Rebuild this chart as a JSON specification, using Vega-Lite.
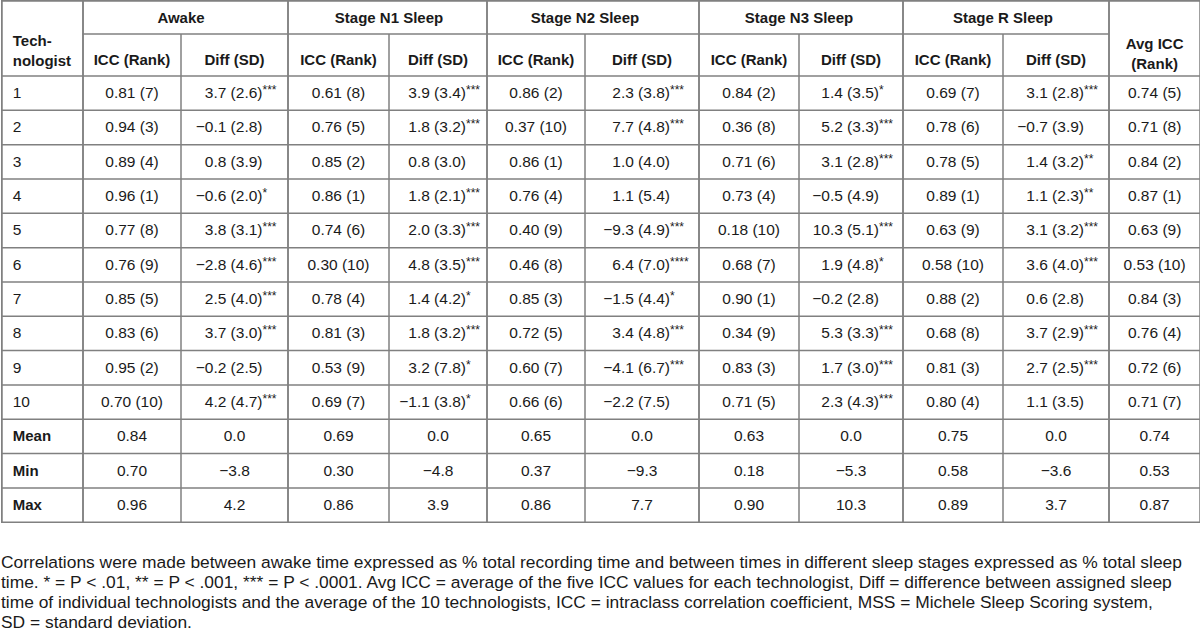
{
  "$schema": "https://vega.github.io/schema/vega-lite/v6.json",
  "width": 1200,
  "height": 523,
  "padding": 0,
  "background": "white",
  "config": {
    "view": {"stroke": null},
    "text": {"font": "Liberation Sans, Arial, sans-serif", "fontSize": 15.5, "color": "#1a1a1a"},
    "rule": {"color": "#808080", "strokeWidth": 1.5}
  },
  "title": {
    "text": [
      "Correlations were made between awake time expressed as % total recording time and between times in different sleep stages expressed as % total sleep",
      "time. * = P < .01, ** = P < .001, *** = P < .0001. Avg ICC = average of the five ICC values for each technologist, Diff = difference between assigned sleep",
      "time of individual technologists and the average of the 10 technologists, ICC = intraclass correlation coefficient, MSS = Michele Sleep Scoring system,",
      "SD = standard deviation."
    ],
    "orient": "bottom",
    "anchor": "start",
    "frame": "group",
    "font": "Liberation Sans, Arial, sans-serif",
    "fontSize": 17.4,
    "fontWeight": "normal",
    "lineHeight": 20,
    "color": "#1a1a1a",
    "offset": 31
  },
  "datasets": {
    "cells": [
      {"r":1,"c":1,"v":"0.81 (7)"},{"r":1,"c":2,"v":"3.7 (2.6)","s":"***"},{"r":1,"c":3,"v":"0.61 (8)"},{"r":1,"c":4,"v":"3.9 (3.4)","s":"***"},{"r":1,"c":5,"v":"0.86 (2)"},{"r":1,"c":6,"v":"2.3 (3.8)","s":"***"},{"r":1,"c":7,"v":"0.84 (2)"},{"r":1,"c":8,"v":"1.4 (3.5)","s":"*"},{"r":1,"c":9,"v":"0.69 (7)"},{"r":1,"c":10,"v":"3.1 (2.8)","s":"***"},{"r":1,"c":11,"v":"0.74 (5)"},
      {"r":2,"c":1,"v":"0.94 (3)"},{"r":2,"c":2,"v":"−0.1 (2.8)","s":""},{"r":2,"c":3,"v":"0.76 (5)"},{"r":2,"c":4,"v":"1.8 (3.2)","s":"***"},{"r":2,"c":5,"v":"0.37 (10)"},{"r":2,"c":6,"v":"7.7 (4.8)","s":"***"},{"r":2,"c":7,"v":"0.36 (8)"},{"r":2,"c":8,"v":"5.2 (3.3)","s":"***"},{"r":2,"c":9,"v":"0.78 (6)"},{"r":2,"c":10,"v":"−0.7 (3.9)","s":""},{"r":2,"c":11,"v":"0.71 (8)"},
      {"r":3,"c":1,"v":"0.89 (4)"},{"r":3,"c":2,"v":"0.8 (3.9)","s":""},{"r":3,"c":3,"v":"0.85 (2)"},{"r":3,"c":4,"v":"0.8 (3.0)","s":""},{"r":3,"c":5,"v":"0.86 (1)"},{"r":3,"c":6,"v":"1.0 (4.0)","s":""},{"r":3,"c":7,"v":"0.71 (6)"},{"r":3,"c":8,"v":"3.1 (2.8)","s":"***"},{"r":3,"c":9,"v":"0.78 (5)"},{"r":3,"c":10,"v":"1.4 (3.2)","s":"**"},{"r":3,"c":11,"v":"0.84 (2)"},
      {"r":4,"c":1,"v":"0.96 (1)"},{"r":4,"c":2,"v":"−0.6 (2.0)","s":"*"},{"r":4,"c":3,"v":"0.86 (1)"},{"r":4,"c":4,"v":"1.8 (2.1)","s":"***"},{"r":4,"c":5,"v":"0.76 (4)"},{"r":4,"c":6,"v":"1.1 (5.4)","s":""},{"r":4,"c":7,"v":"0.73 (4)"},{"r":4,"c":8,"v":"−0.5 (4.9)","s":""},{"r":4,"c":9,"v":"0.89 (1)"},{"r":4,"c":10,"v":"1.1 (2.3)","s":"**"},{"r":4,"c":11,"v":"0.87 (1)"},
      {"r":5,"c":1,"v":"0.77 (8)"},{"r":5,"c":2,"v":"3.8 (3.1)","s":"***"},{"r":5,"c":3,"v":"0.74 (6)"},{"r":5,"c":4,"v":"2.0 (3.3)","s":"***"},{"r":5,"c":5,"v":"0.40 (9)"},{"r":5,"c":6,"v":"−9.3 (4.9)","s":"***"},{"r":5,"c":7,"v":"0.18 (10)"},{"r":5,"c":8,"v":"10.3 (5.1)","s":"***"},{"r":5,"c":9,"v":"0.63 (9)"},{"r":5,"c":10,"v":"3.1 (3.2)","s":"***"},{"r":5,"c":11,"v":"0.63 (9)"},
      {"r":6,"c":1,"v":"0.76 (9)"},{"r":6,"c":2,"v":"−2.8 (4.6)","s":"***"},{"r":6,"c":3,"v":"0.30 (10)"},{"r":6,"c":4,"v":"4.8 (3.5)","s":"***"},{"r":6,"c":5,"v":"0.46 (8)"},{"r":6,"c":6,"v":"6.4 (7.0)","s":"****"},{"r":6,"c":7,"v":"0.68 (7)"},{"r":6,"c":8,"v":"1.9 (4.8)","s":"*"},{"r":6,"c":9,"v":"0.58 (10)"},{"r":6,"c":10,"v":"3.6 (4.0)","s":"***"},{"r":6,"c":11,"v":"0.53 (10)"},
      {"r":7,"c":1,"v":"0.85 (5)"},{"r":7,"c":2,"v":"2.5 (4.0)","s":"***"},{"r":7,"c":3,"v":"0.78 (4)"},{"r":7,"c":4,"v":"1.4 (4.2)","s":"*"},{"r":7,"c":5,"v":"0.85 (3)"},{"r":7,"c":6,"v":"−1.5 (4.4)","s":"*"},{"r":7,"c":7,"v":"0.90 (1)"},{"r":7,"c":8,"v":"−0.2 (2.8)","s":""},{"r":7,"c":9,"v":"0.88 (2)"},{"r":7,"c":10,"v":"0.6 (2.8)","s":""},{"r":7,"c":11,"v":"0.84 (3)"},
      {"r":8,"c":1,"v":"0.83 (6)"},{"r":8,"c":2,"v":"3.7 (3.0)","s":"***"},{"r":8,"c":3,"v":"0.81 (3)"},{"r":8,"c":4,"v":"1.8 (3.2)","s":"***"},{"r":8,"c":5,"v":"0.72 (5)"},{"r":8,"c":6,"v":"3.4 (4.8)","s":"***"},{"r":8,"c":7,"v":"0.34 (9)"},{"r":8,"c":8,"v":"5.3 (3.3)","s":"***"},{"r":8,"c":9,"v":"0.68 (8)"},{"r":8,"c":10,"v":"3.7 (2.9)","s":"***"},{"r":8,"c":11,"v":"0.76 (4)"},
      {"r":9,"c":1,"v":"0.95 (2)"},{"r":9,"c":2,"v":"−0.2 (2.5)","s":""},{"r":9,"c":3,"v":"0.53 (9)"},{"r":9,"c":4,"v":"3.2 (7.8)","s":"*"},{"r":9,"c":5,"v":"0.60 (7)"},{"r":9,"c":6,"v":"−4.1 (6.7)","s":"***"},{"r":9,"c":7,"v":"0.83 (3)"},{"r":9,"c":8,"v":"1.7 (3.0)","s":"***"},{"r":9,"c":9,"v":"0.81 (3)"},{"r":9,"c":10,"v":"2.7 (2.5)","s":"***"},{"r":9,"c":11,"v":"0.72 (6)"},
      {"r":10,"c":1,"v":"0.70 (10)"},{"r":10,"c":2,"v":"4.2 (4.7)","s":"***"},{"r":10,"c":3,"v":"0.69 (7)"},{"r":10,"c":4,"v":"−1.1 (3.8)","s":"*"},{"r":10,"c":5,"v":"0.66 (6)"},{"r":10,"c":6,"v":"−2.2 (7.5)","s":""},{"r":10,"c":7,"v":"0.71 (5)"},{"r":10,"c":8,"v":"2.3 (4.3)","s":"***"},{"r":10,"c":9,"v":"0.80 (4)"},{"r":10,"c":10,"v":"1.1 (3.5)","s":""},{"r":10,"c":11,"v":"0.71 (7)"},
      {"r":11,"c":1,"v":"0.84"},{"r":11,"c":2,"v":"0.0"},{"r":11,"c":3,"v":"0.69"},{"r":11,"c":4,"v":"0.0"},{"r":11,"c":5,"v":"0.65"},{"r":11,"c":6,"v":"0.0"},{"r":11,"c":7,"v":"0.63"},{"r":11,"c":8,"v":"0.0"},{"r":11,"c":9,"v":"0.75"},{"r":11,"c":10,"v":"0.0"},{"r":11,"c":11,"v":"0.74"},
      {"r":12,"c":1,"v":"0.70"},{"r":12,"c":2,"v":"−3.8"},{"r":12,"c":3,"v":"0.30"},{"r":12,"c":4,"v":"−4.8"},{"r":12,"c":5,"v":"0.37"},{"r":12,"c":6,"v":"−9.3"},{"r":12,"c":7,"v":"0.18"},{"r":12,"c":8,"v":"−5.3"},{"r":12,"c":9,"v":"0.58"},{"r":12,"c":10,"v":"−3.6"},{"r":12,"c":11,"v":"0.53"},
      {"r":13,"c":1,"v":"0.96"},{"r":13,"c":2,"v":"4.2"},{"r":13,"c":3,"v":"0.86"},{"r":13,"c":4,"v":"3.9"},{"r":13,"c":5,"v":"0.86"},{"r":13,"c":6,"v":"7.7"},{"r":13,"c":7,"v":"0.90"},{"r":13,"c":8,"v":"10.3"},{"r":13,"c":9,"v":"0.89"},{"r":13,"c":10,"v":"3.7"},{"r":13,"c":11,"v":"0.87"}
    ],
    "rows": [
      {"r":1,"t":"1"},{"r":2,"t":"2"},{"r":3,"t":"3"},{"r":4,"t":"4"},{"r":5,"t":"5"},{"r":6,"t":"6"},{"r":7,"t":"7"},{"r":8,"t":"8"},{"r":9,"t":"9"},{"r":10,"t":"10"},{"r":11,"t":"Mean"},{"r":12,"t":"Min"},{"r":13,"t":"Max"}
    ],
    "subheads": [
      {"g":"Awake","c":1,"h":"ICC (Rank)"},{"g":"Awake","c":2,"h":"Diff (SD)"},
      {"g":"Stage N1 Sleep","c":3,"h":"ICC (Rank)"},{"g":"Stage N1 Sleep","c":4,"h":"Diff (SD)"},
      {"g":"Stage N2 Sleep","c":5,"h":"ICC (Rank)"},{"g":"Stage N2 Sleep","c":6,"h":"Diff (SD)"},
      {"g":"Stage N3 Sleep","c":7,"h":"ICC (Rank)"},{"g":"Stage N3 Sleep","c":8,"h":"Diff (SD)"},
      {"g":"Stage R Sleep","c":9,"h":"ICC (Rank)"},{"g":"Stage R Sleep","c":10,"h":"Diff (SD)"}
    ],
    "spans": [
      {"k":"tech","label":"Tech-\nnologist"},
      {"k":"avg","label":"Avg ICC\n(Rank)"}
    ]
  },
  "layer": [
    {
      "data": {"name": "cells"},
      "transform": [{"filter": "datum.c % 2 == 1 || datum.r > 10"}],
      "mark": {"type": "text", "align": "center"},
      "encoding": {
        "x": {"field": "c", "type": "quantitative", "axis": null,
              "scale": {"domain": [-0.5,0.5,1.5,2.5,3.5,4.5,5.5,6.5,7.5,8.5,9.5,10.5,11.5], "range": [0.75,82,180,287,388,486,584,698,798,902,1002,1108,1199.25], "zero": false, "nice": false}},
        "y": {"field": "r", "type": "quantitative", "axis": null,
              "scale": {"domain": [-1.5,-0.5,0.5,13.5], "range": [0.75,34,76,522.25], "zero": false, "nice": false}},
        "text": {"field": "v"}
      }
    },
    {
      "data": {"name": "cells"},
      "transform": [{"filter": "datum.c % 2 == 0 && datum.r <= 10"}],
      "mark": {"type": "text", "align": "right", "dx": 28},
      "encoding": {
        "x": {"field": "c", "type": "quantitative", "axis": null},
        "y": {"field": "r", "type": "quantitative", "axis": null},
        "text": {"field": "v"}
      }
    },
    {
      "data": {"name": "cells"},
      "transform": [{"filter": "datum.c % 2 == 0 && datum.r <= 10 && datum.s"}],
      "mark": {"type": "text", "align": "left", "dx": 28, "dy": -3, "fontSize": 12},
      "encoding": {
        "x": {"field": "c", "type": "quantitative", "axis": null},
        "y": {"field": "r", "type": "quantitative", "axis": null},
        "text": {"field": "s"}
      }
    },
    {
      "data": {"name": "rows"},
      "transform": [{"filter": "datum.r <= 10"}],
      "mark": {"type": "text", "align": "left", "dx": 11},
      "encoding": {
        "x": {"datum": -0.5, "type": "quantitative", "axis": null},
        "y": {"field": "r", "type": "quantitative", "axis": null},
        "text": {"field": "t"}
      }
    },
    {
      "data": {"name": "rows"},
      "transform": [{"filter": "datum.r > 10"}],
      "mark": {"type": "text", "align": "left", "dx": 11, "fontWeight": "bold", "fontSize": 15},
      "encoding": {
        "x": {"datum": -0.5, "type": "quantitative", "axis": null},
        "y": {"field": "r", "type": "quantitative", "axis": null},
        "text": {"field": "t"}
      }
    },
    {
      "data": {"name": "subheads"},
      "mark": {"type": "text", "align": "center", "fontWeight": "bold", "fontSize": 15, "dy": 5},
      "encoding": {
        "x": {"field": "c", "type": "quantitative", "axis": null},
        "y": {"datum": 0, "type": "quantitative", "axis": null},
        "text": {"field": "h"}
      }
    },
    {
      "data": {"name": "subheads"},
      "mark": {"type": "text", "align": "center", "fontWeight": "bold", "fontSize": 15, "dy": 1},
      "encoding": {
        "x": {"field": "c", "aggregate": "mean", "type": "quantitative", "axis": null},
        "y": {"datum": -1, "type": "quantitative", "axis": null},
        "text": {"field": "g"}
      }
    },
    {
      "data": {"name": "spans"},
      "transform": [{"filter": "datum.k == 'tech'"}],
      "mark": {"type": "text", "align": "left", "dx": 11, "dy": -14, "fontWeight": "bold", "fontSize": 15, "lineBreak": "\n", "lineHeight": 20},
      "encoding": {
        "x": {"datum": -0.5, "type": "quantitative", "axis": null},
        "y": {"datum": 0, "type": "quantitative", "axis": null},
        "text": {"field": "label"}
      }
    },
    {
      "data": {"name": "spans"},
      "transform": [{"filter": "datum.k == 'avg'"}],
      "mark": {"type": "text", "align": "center", "dy": -11, "fontWeight": "bold", "fontSize": 15, "lineBreak": "\n", "lineHeight": 20},
      "encoding": {
        "x": {"datum": 11, "type": "quantitative", "axis": null},
        "y": {"datum": 0, "type": "quantitative", "axis": null},
        "text": {"field": "label"}
      }
    },
    {
      "data": {"name": "rows"},
      "mark": {"type": "rule", "yOffset": 17.16},
      "encoding": {
        "y": {"field": "r", "type": "quantitative", "axis": null}
      }
    },
    {
      "data": {"name": "rows"},
      "transform": [{"filter": "datum.r == 1"}],
      "mark": {"type": "rule", "yOffset": -17.16},
      "encoding": {
        "y": {"field": "r", "type": "quantitative", "axis": null}
      }
    },
    {
      "data": {"name": "spans"},
      "mark": {"type": "rule"},
      "encoding": {
        "y": {"datum": -1.5, "type": "quantitative", "axis": null}
      }
    },
    {
      "data": {"name": "subheads"},
      "mark": {"type": "rule", "xOffset": -49.5, "x2Offset": 53},
      "encoding": {
        "x": {"field": "c", "aggregate": "min", "type": "quantitative", "axis": null},
        "x2": {"field": "c", "aggregate": "max"},
        "y": {"datum": -0.5, "type": "quantitative", "axis": null}
      }
    },
    {
      "data": {"name": "subheads"},
      "mark": {"type": "rule"},
      "encoding": {
        "x": {"field": "c", "aggregate": "mean", "type": "quantitative", "axis": null},
        "y": {"datum": -0.5, "type": "quantitative", "axis": null},
        "y2": {"datum": 13.5},
        "detail": {"field": "g"}
      }
    },
    {"data": {"name": "spans"}, "mark": {"type": "rule"}, "encoding": {"x": {"datum": -0.5, "type": "quantitative", "axis": null}, "y": {"datum": -1.5, "type": "quantitative", "axis": null}, "y2": {"datum": 13.5}}},
    {"data": {"name": "spans"}, "mark": {"type": "rule"}, "encoding": {"x": {"datum": 0.5, "type": "quantitative", "axis": null}, "y": {"datum": -1.5, "type": "quantitative", "axis": null}, "y2": {"datum": 13.5}}},
    {"data": {"name": "spans"}, "mark": {"type": "rule"}, "encoding": {"x": {"datum": 2.5, "type": "quantitative", "axis": null}, "y": {"datum": -1.5, "type": "quantitative", "axis": null}, "y2": {"datum": 13.5}}},
    {"data": {"name": "spans"}, "mark": {"type": "rule"}, "encoding": {"x": {"datum": 4.5, "type": "quantitative", "axis": null}, "y": {"datum": -1.5, "type": "quantitative", "axis": null}, "y2": {"datum": 13.5}}},
    {"data": {"name": "spans"}, "mark": {"type": "rule"}, "encoding": {"x": {"datum": 6.5, "type": "quantitative", "axis": null}, "y": {"datum": -1.5, "type": "quantitative", "axis": null}, "y2": {"datum": 13.5}}},
    {"data": {"name": "spans"}, "mark": {"type": "rule"}, "encoding": {"x": {"datum": 8.5, "type": "quantitative", "axis": null}, "y": {"datum": -1.5, "type": "quantitative", "axis": null}, "y2": {"datum": 13.5}}},
    {"data": {"name": "spans"}, "mark": {"type": "rule"}, "encoding": {"x": {"datum": 10.5, "type": "quantitative", "axis": null}, "y": {"datum": -1.5, "type": "quantitative", "axis": null}, "y2": {"datum": 13.5}}},
    {"data": {"name": "spans"}, "mark": {"type": "rule"}, "encoding": {"x": {"datum": 11.5, "type": "quantitative", "axis": null}, "y": {"datum": -1.5, "type": "quantitative", "axis": null}, "y2": {"datum": 13.5}}}
  ]
}
